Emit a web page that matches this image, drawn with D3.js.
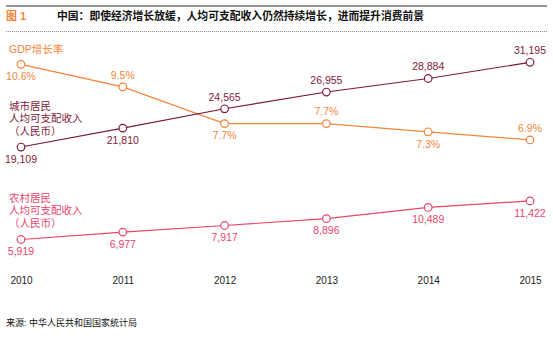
<!DOCTYPE html>
<html><head><meta charset="utf-8">
<script src="https://cdn.jsdelivr.net/npm/d3@7"></script>
<style>body{margin:0;background:#fff}svg{display:block}text{font-family:"Liberation Sans",Arial,"Noto Sans CJK SC",sans-serif}</style>
</head><body>
<script>
const years = ["2010","2011","2012","2013","2014","2015"];
const gdpGrowth = [10.6, 9.5, 7.7, 7.7, 7.3, 6.9];
const gdpLabels = ["10.6%","9.5%","7.7%","7.7%","7.3%","6.9%"];
const gdpPos = ["below","above","below","above","below","above"];
const urbanIncome = [19109, 21810, 24565, 26955, 28884, 31195];
const urbanPos = ["below","below","above","above","above","above"];
const ruralIncome = [5919, 6977, 7917, 8896, 10489, 11422];
const ruralPos = ["below","below","below","below","below","below"];
const titleText = "中国：即使经济增长放缓，人均可支配收入仍然持续增长，进而提升消费前景";
const figLabel = "图 1";
const sourceText = "来源: 中华人民共和国国家统计局";
const gdpName = ["GDP增长率"];
const urbanName = ["城市居民","人均可支配收入","（人民币）"];
const ruralName = ["农村居民","人均可支配收入","（人民币）"];

const W = 553, H = 342;
const cOrange = "#f5843a", cMaroon = "#7d1a38", cPink = "#e8456a";
const svg = d3.select("body").append("svg").attr("width", W).attr("height", H);

svg.append("line").attr("x1",6).attr("x2",547).attr("y1",6).attr("y2",6).attr("stroke","#707070").attr("stroke-width",1.5);
svg.append("line").attr("x1",6).attr("x2",547).attr("y1",31.5).attr("y2",31.5).attr("stroke","#888").attr("stroke-width",1).attr("stroke-dasharray","1,1");
svg.append("text").attr("x",6).attr("y",20).attr("fill",cOrange).attr("font-weight","bold").attr("font-size",11).text(figLabel);
svg.append("text").attr("x",57).attr("y",20).attr("fill","#111").attr("font-weight","bold").attr("font-size",10.8).attr("font-family","Noto Sans CJK SC").text(titleText);

const x = d3.scalePoint().domain(years).range([21, 530]);
const yInc = d3.scaleLinear().domain([0, 31195]).range([281, 62.3]);
const yGdp = d3.scaleLinear().domain([0, 10.7]).range([281, 62.3]);

function series(vals, yS, color, labels, pos) {
  const g = svg.append("g");
  const line = d3.line().x((d,i)=>x(years[i])).y(d=>yS(d));
  g.append("path").datum(vals).attr("d", line).attr("fill","none").attr("stroke",color).attr("stroke-width",1.2);
  g.selectAll("circle").data(vals).join("circle")
    .attr("cx",(d,i)=>x(years[i])).attr("cy",d=>yS(d)).attr("r",3.8)
    .attr("fill","#fff").attr("stroke",color).attr("stroke-width",1.2);
  g.selectAll("text").data(vals).join("text")
    .attr("x",(d,i)=>x(years[i])).attr("y",(d,i)=>yS(d)+(pos[i]==="above"?-12:12))
    .attr("dy","0.36em").attr("text-anchor","middle").attr("font-size",10.5).attr("fill",color)
    .text((d,i)=>labels[i]);
}
series(gdpGrowth, yGdp, cOrange, gdpLabels, gdpPos);
series(urbanIncome, yInc, cMaroon, urbanIncome.map(d3.format(",")), urbanPos);
series(ruralIncome, yInc, cPink, ruralIncome.map(d3.format(",")), ruralPos);

function nameBlock(lines, y0, color) {
  svg.append("g").selectAll("text").data(lines).join("text")
    .attr("x",9).attr("y",(d,i)=>y0+i*12.5).attr("dy","0.36em")
    .attr("font-size",10.5).attr("fill",color).attr("font-family","Noto Sans CJK SC").text(d=>d);
}
svg.append("text").attr("x",9).attr("y",49).attr("dy","0.36em").attr("font-size",10.5).attr("fill",cOrange).attr("font-family","Noto Sans CJK SC").text(gdpName[0]);
nameBlock(urbanName, 106, cMaroon);
nameBlock(ruralName, 198, cPink);

const xAxis = d3.axisBottom(x).tickSize(0).tickPadding(0);
const ag = svg.append("g").attr("transform","translate(0,277)").call(xAxis);
ag.select(".domain").remove();
ag.selectAll("text").attr("font-size",10).attr("fill","#222").attr("font-family","Liberation Sans, Arial, sans-serif");

svg.append("text").attr("x",6).attr("y",323).attr("dy","0.36em").attr("font-size",9).attr("fill","#111").attr("font-family","Noto Sans CJK SC").text(sourceText);
</script>
</body></html>
